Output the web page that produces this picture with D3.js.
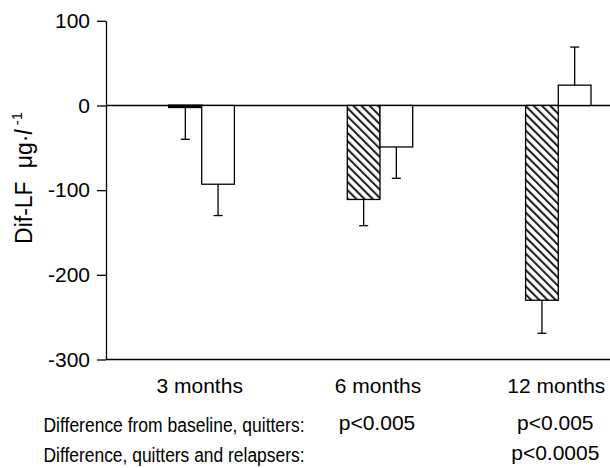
<!DOCTYPE html>
<html>
<head>
<meta charset="utf-8">
<script src="https://cdn.jsdelivr.net/npm/d3@7"></script>
<style>
  html, body { margin: 0; padding: 0; background: #fff; }
  svg { display: block; font-family: "Liberation Sans", Arial, Helvetica, sans-serif; }
</style>
</head>
<body>
<svg id="chart" width="610" height="468"></svg>
<script>
// ---- data ----
const categories = ["3 months", "6 months", "12 months"];
const seriesNames = ["Quitters", "Relapsers"];
const quitters = [-2, -111, -230];
const quittersErr = [38, 31, 39];
const relapsers = [-93, -49, 24];
const relapsersErr = [37, 37, 45];
const yTicks = [100, 0, -100, -200, -300];
const pBaselineLabel = "Difference from baseline, quitters:";
const pBaseline = ["", "p<0.005", "p<0.005"];
const pBetweenLabel = "Difference, quitters and relapsers:";
const pBetween = ["", "", "p<0.0005"];

// ---- layout ----
const svg = d3.select("#chart");
const axisX = 106;
const rightX = 610;
const y = d3.scaleLinear().domain([-300, 100]).range([359.5, 20.8]);
const x = d3.scalePoint().domain(categories).range([201.7, 558.3]);
const inner = d3.scaleBand().domain(seriesNames).range([-32.7, 32.7]).padding(0);

// hatch pattern
const defs = svg.append("defs");
const pat = defs.append("pattern")
  .attr("id", "hatch")
  .attr("patternUnits", "userSpaceOnUse")
  .attr("width", 5.8).attr("height", 5.8)
  .attr("patternTransform", "rotate(-45)");
pat.append("rect").attr("width", 5.8).attr("height", 5.8).attr("fill", "#fff");
pat.append("rect").attr("x", 0).attr("y", 0).attr("width", 2.1).attr("height", 5.8).attr("fill", "#222");

const rows = categories.map((c, i) => [
  { cat: c, s: "Quitters", v: quitters[i], e: quittersErr[i] },
  { cat: c, s: "Relapsers", v: relapsers[i], e: relapsersErr[i] }
]).flat();

// zero line
svg.append("line")
  .attr("x1", axisX).attr("x2", rightX)
  .attr("y1", y(0)).attr("y2", y(0))
  .attr("stroke", "#000").attr("stroke-width", 1.3);

// bottom line
svg.append("line")
  .attr("x1", axisX).attr("x2", rightX)
  .attr("y1", y(-300)).attr("y2", y(-300))
  .attr("stroke", "#000").attr("stroke-width", 1.3);

// error bars
const eb = svg.append("g").attr("stroke", "#000").attr("stroke-width", 1.3);
rows.forEach(d => {
  const cx = x(d.cat) + inner(d.s) + inner.bandwidth() / 2;
  const end = d.v < 0 ? d.v - d.e : d.v + d.e;
  eb.append("line").attr("x1", cx).attr("x2", cx).attr("y1", y(d.v)).attr("y2", y(end));
  eb.append("line").attr("x1", cx - 4.5).attr("x2", cx + 4.5).attr("y1", y(end)).attr("y2", y(end));
});

// bars
svg.append("g").selectAll("rect").data(rows).join("rect")
  .attr("x", d => x(d.cat) + inner(d.s))
  .attr("width", inner.bandwidth())
  .attr("y", d => Math.min(y(d.v), y(0)))
  .attr("height", d => Math.abs(y(d.v) - y(0)))
  .attr("fill", d => d.s === "Quitters" ? "url(#hatch)" : "#fff")
  .attr("stroke", "#000").attr("stroke-width", d => Math.abs(d.v) < 5 ? 2 : 1.3);

// y axis
const yAxis = d3.axisLeft(y).tickValues(yTicks).tickSize(9).tickSizeOuter(0).tickPadding(7)
  .tickFormat(d => String(d));
const gy = svg.append("g").attr("transform", `translate(${axisX},0)`).call(yAxis);
gy.selectAll("path,line").attr("stroke", "#000").attr("stroke-width", 1.3);
gy.selectAll("text").attr("font-size", 21).attr("fill", "#000")
  .attr("font-family", '"Liberation Sans", Arial, sans-serif');

// y axis title
const yt = svg.append("text")
  .attr("transform", "translate(32,178) rotate(-90)")
  .attr("text-anchor", "middle")
  .attr("font-size", 23).attr("fill", "#000");
yt.append("tspan").text("Dif-LF");
yt.append("tspan").attr("dx", 13).text("μg·");
yt.append("tspan").attr("font-style", "italic").text("l");
yt.append("tspan").attr("font-size", 15).attr("dy", -10).text(" -1");

// category labels
svg.append("g").selectAll("text").data(categories).join("text")
  .attr("x", d => x(d) - 2).attr("y", 393)
  .attr("text-anchor", "middle").attr("font-size", 21).attr("fill", "#000")
  .text(d => d);

// p-value rows
svg.append("text").attr("x", 43.5).attr("y", 432)
  .attr("font-size", 20).attr("fill", "#000")
  .attr("textLength", 261).attr("lengthAdjust", "spacingAndGlyphs")
  .text(pBaselineLabel);
svg.append("text").attr("x", 43.5).attr("y", 462)
  .attr("font-size", 20).attr("fill", "#000")
  .attr("textLength", 261).attr("lengthAdjust", "spacingAndGlyphs")
  .text(pBetweenLabel);

svg.append("g").selectAll("text").data(categories).join("text")
  .attr("x", (d, i) => x(d) - 3).attr("y", 430)
  .attr("text-anchor", "middle").attr("font-size", 21).attr("fill", "#000")
  .text((d, i) => pBaseline[i]);
svg.append("g").selectAll("text").data(categories).join("text")
  .attr("x", (d, i) => x(d) - 3).attr("y", 460)
  .attr("text-anchor", "middle").attr("font-size", 21).attr("fill", "#000")
  .text((d, i) => pBetween[i]);
</script>
</body>
</html>
